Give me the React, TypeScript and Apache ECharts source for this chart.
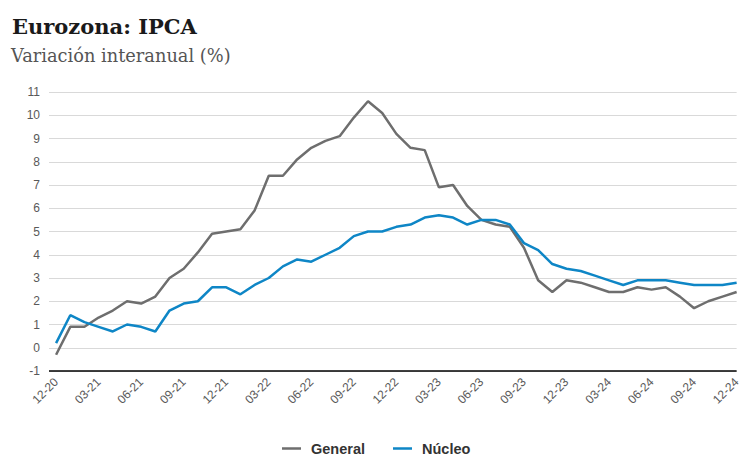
import React, { useEffect, useRef } from "react";
import * as echarts from "echarts";

// Monthly labels, Dec 2020 – Dec 2024
const months = [
  "12-20",
  "01-21", "02-21", "03-21", "04-21", "05-21", "06-21", "07-21", "08-21", "09-21", "10-21", "11-21", "12-21",
  "01-22", "02-22", "03-22", "04-22", "05-22", "06-22", "07-22", "08-22", "09-22", "10-22", "11-22", "12-22",
  "01-23", "02-23", "03-23", "04-23", "05-23", "06-23", "07-23", "08-23", "09-23", "10-23", "11-23", "12-23",
  "01-24", "02-24", "03-24", "04-24", "05-24", "06-24", "07-24", "08-24", "09-24", "10-24", "11-24", "12-24",
];

// Headline HICP, year-on-year %
const general = [
  -0.3,
  0.9, 0.9, 1.3, 1.6, 2.0, 1.9, 2.2, 3.0, 3.4, 4.1, 4.9, 5.0,
  5.1, 5.9, 7.4, 7.4, 8.1, 8.6, 8.9, 9.1, 9.9, 10.6, 10.1, 9.2,
  8.6, 8.5, 6.9, 7.0, 6.1, 5.5, 5.3, 5.2, 4.3, 2.9, 2.4, 2.9,
  2.8, 2.6, 2.4, 2.4, 2.6, 2.5, 2.6, 2.2, 1.7, 2.0, 2.2, 2.4,
];

// Core HICP, year-on-year %
const nucleo = [
  0.2,
  1.4, 1.1, 0.9, 0.7, 1.0, 0.9, 0.7, 1.6, 1.9, 2.0, 2.6, 2.6,
  2.3, 2.7, 3.0, 3.5, 3.8, 3.7, 4.0, 4.3, 4.8, 5.0, 5.0, 5.2,
  5.3, 5.6, 5.7, 5.6, 5.3, 5.5, 5.5, 5.3, 4.5, 4.2, 3.6, 3.4,
  3.3, 3.1, 2.9, 2.7, 2.9, 2.9, 2.9, 2.8, 2.7, 2.7, 2.7, 2.8,
];

const seriesNames = ["General", "Núcleo"];
const seriesColors = ["#6e6e6e", "#0e86c6"];

// Every third month gets a label on the horizontal axis
const labelStep = 3;

export default function App() {
  const ref = useRef<HTMLDivElement>(null);

  useEffect(() => {
    if (!ref.current) return;
    const chart = echarts.init(ref.current, undefined, { renderer: "svg" });
    const toPairs = (arr: number[]) => arr.map((v, i) => [i, v]);

    chart.setOption({
      animation: false,
      backgroundColor: "#ffffff",
      title: [
        {
          text: "Eurozona: IPCA",
          left: 12,
          top: 16,
          padding: 0,
          textStyle: {
            fontFamily: "DejaVu Serif",
            fontWeight: "bold",
            fontSize: 21,
            color: "#1a1a1a",
          },
        },
        {
          text: "Variación interanual (%)",
          left: 11,
          top: 46,
          padding: 0,
          textStyle: {
            fontFamily: "DejaVu Serif",
            fontWeight: "normal",
            fontSize: 17.8,
            color: "#555555",
          },
        },
      ],
      legend: {
        top: 441,
        left: 282,
        padding: 0,
        itemGap: 28,
        itemWidth: 19,
        itemHeight: 2.5,
        icon: "rect",
        data: seriesNames,
        textStyle: {
          fontFamily: "Liberation Sans",
          fontWeight: "bold",
          fontSize: 14.5,
          lineHeight: 14,
          color: "#333333",
          padding: [0, 0, 0, 5],
        },
      },
      grid: {
        left: 49,
        right: 2,
        top: 92,
        bottom: 86,
      },
      xAxis: {
        type: "value",
        min: -0.5,
        max: 48,
        interval: 0.5,
        axisLine: { show: false },
        axisTick: { show: false },
        splitLine: { show: false },
        axisLabel: {
          rotate: 45,
          margin: 9,
          fontFamily: "Liberation Sans",
          fontSize: 12,
          color: "#595959",
          formatter: (v: number) =>
            Number.isInteger(v) && v % labelStep === 0 && months[v] ? months[v] : "",
        },
      },
      yAxis: {
        type: "value",
        min: -1,
        max: 11,
        interval: 1,
        axisLine: { show: false },
        axisTick: { show: false },
        axisLabel: {
          margin: 9,
          fontFamily: "Liberation Sans",
          fontSize: 12,
          color: "#595959",
        },
        splitLine: {
          lineStyle: { color: "#d9d9d9", width: 1 },
        },
      },
      series: [
        {
          name: seriesNames[0],
          type: "line",
          data: toPairs(general),
          showSymbol: false,
          symbol: "none",
          lineStyle: { color: seriesColors[0], width: 2.5 },
          itemStyle: { color: seriesColors[0] },
          z: 2,
        },
        {
          name: seriesNames[1],
          type: "line",
          data: toPairs(nucleo),
          showSymbol: false,
          symbol: "none",
          lineStyle: { color: seriesColors[1], width: 2.5 },
          itemStyle: { color: seriesColors[1] },
          z: 3,
          markLine: {
            silent: true,
            symbol: "none",
            label: { show: false },
            lineStyle: { color: "#000000", width: 1.5, type: "solid" },
            data: [{ yAxis: -1 }],
          },
        },
      ],
    });

    return () => chart.dispose();
  }, []);

  return (
    <div
      ref={ref}
      style={{ position: "absolute", left: 0, top: 0, width: 743, height: 457 }}
    />
  );
}
